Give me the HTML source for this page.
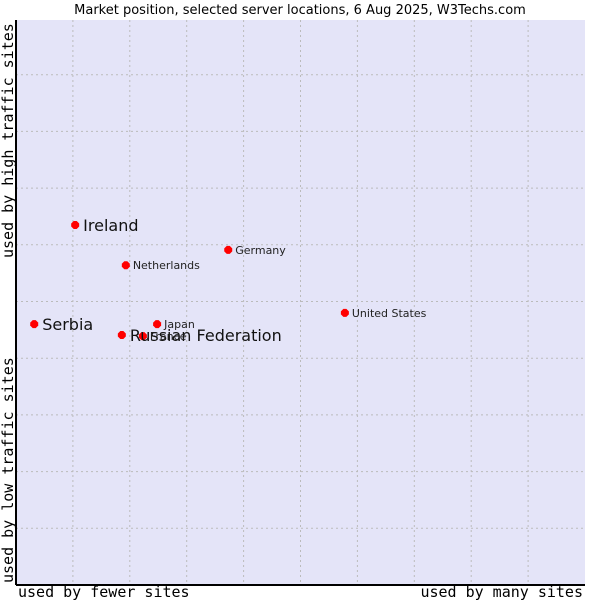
<!DOCTYPE html>
<html><head><meta charset="utf-8"><style>
body{margin:0;background:#fff;}
svg{display:block;font-family:"DejaVu Sans","Liberation Sans",sans-serif;}
</style></head><body>
<svg width="600" height="600">
<text x="300" y="14" text-anchor="middle" font-size="13" fill="#000">Market position, selected server locations, 6 Aug 2025, W3Techs.com</text>
<rect x="16" y="20" width="569" height="565" fill="#e4e4f8"/>
<g id="grid"></g>
<line x1="16" y1="20" x2="16" y2="585" stroke="#000" stroke-width="2"/>
<line x1="16" y1="585" x2="585" y2="585" stroke="#000" stroke-width="2"/>
<g font-family="'DejaVu Sans Mono','Liberation Mono',monospace" font-size="15" fill="#000">
<text x="18" y="597">used by fewer sites</text>
<text x="583" y="597" text-anchor="end">used by many sites</text>
<text transform="translate(13,583) rotate(-90)">used by low traffic sites</text>
<text transform="translate(13,258) rotate(-90)">used by high traffic sites</text>
</g>
<g id="points"></g>
</svg>
<script>
const countries=["Ireland","Germany","Netherlands","Serbia","Japan","Russian Federation","France","United States"];
const siteShare=[10.4,37.3,19.3,3.2,24.8,18.6,22.3,57.8];
const trafficScore=[63.5,59.1,56.4,46.0,46.0,44.1,43.9,48.0];
const highlighted=[true,false,false,true,false,true,false,false];
const NS="http://www.w3.org/2000/svg";
const X0=16,X1=585,Y0=585,Y1=18;
function sx(v){return X0+v/100*(X1-X0);}
function sy(v){return Y0-v/100*(Y0-Y1);}
const grid=document.getElementById('grid');
for(let i=1;i<10;i++){
  const gx=X0+i*(X1-X0)/10, gy=Y0-i*(Y0-Y1)/10;
  const a=document.createElementNS(NS,'line');
  a.setAttribute('x1',gx);a.setAttribute('x2',gx);a.setAttribute('y1',20);a.setAttribute('y2',Y0);
  a.setAttribute('stroke','#bbb');a.setAttribute('stroke-dasharray','2,3');
  
  
  grid.appendChild(a);
  const b=document.createElementNS(NS,'line');
  b.setAttribute('y1',gy);b.setAttribute('y2',gy);b.setAttribute('x1',X0);b.setAttribute('x2',X1);
  b.setAttribute('stroke','#bbb');b.setAttribute('stroke-dasharray','2,3');
  
  
  grid.appendChild(b);
}
const pts=document.getElementById('points');
countries.forEach((c,i)=>{
  const x=sx(siteShare[i]),y=sy(trafficScore[i]);
  const d=document.createElementNS(NS,'path');
  d.setAttribute('d',`M${x-4},${y-1.5}L${x-1.5},${y-4}L${x+1.5},${y-4}L${x+4},${y-1.5}L${x+4},${y+1.5}L${x+1.5},${y+4}L${x-1.5},${y+4}L${x-4},${y+1.5}Z`);
  d.setAttribute('fill','#f00');
  
  
  pts.appendChild(d);
});
countries.forEach((c,i)=>{
  const x=sx(siteShare[i]),y=sy(trafficScore[i]);
  const t=document.createElementNS(NS,'text');
  t.textContent=c;
  t.setAttribute('x',x+(highlighted[i]?8:7));
  t.setAttribute('y',y+(highlighted[i]?6:4));
  t.setAttribute('font-size',highlighted[i]?16:11);
  t.setAttribute('fill',highlighted[i]?'#111':'#222');
  
  
  pts.appendChild(t);
});
</script>
</body></html>
